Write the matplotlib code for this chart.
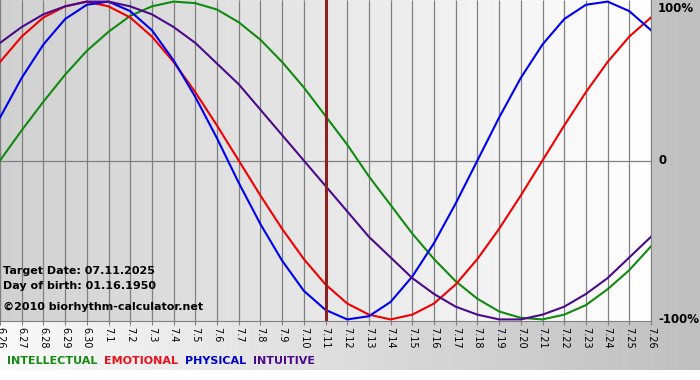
import numpy as np
import matplotlib
matplotlib.use("Agg")
import matplotlib.pyplot as plt

# Fechas del eje x (6.26 .. 7.26)
dias = ["6.26", "6.27", "6.28", "6.29", "6.30"] + [f"7.{d}" for d in range(1, 27)]

# Valores (fracción de 100%)
intelectual = [0.00, 0.19, 0.37, 0.54, 0.69, 0.81, 0.91, 0.97, 1.00, 0.99, 0.95,
               0.87, 0.76, 0.62, 0.46, 0.28, 0.10, -0.10, -0.28, -0.46, -0.62,
               -0.76, -0.87, -0.95, -0.99, -1.00, -0.97, -0.91, -0.81, -0.69, -0.54]
emocional = [0.62, 0.78, 0.90, 0.97, 1.00, 0.97, 0.90, 0.78, 0.62, 0.43, 0.22,
             0.00, -0.22, -0.43, -0.62, -0.78, -0.90, -0.97, -1.00, -0.97, -0.90,
             -0.78, -0.62, -0.43, -0.22, 0.00, 0.22, 0.43, 0.62, 0.78, 0.90]
fisico = [0.27, 0.52, 0.73, 0.89, 0.98, 1.00, 0.94, 0.82, 0.63, 0.40, 0.14,
          -0.14, -0.40, -0.63, -0.82, -0.94, -1.00, -0.98, -0.89, -0.73, -0.52,
          -0.27, 0.00, 0.27, 0.52, 0.73, 0.89, 0.98, 1.00, 0.94, 0.82]
intuitivo = [0.74, 0.84, 0.92, 0.97, 1.00, 1.00, 0.97, 0.92, 0.84, 0.74, 0.61,
             0.48, 0.32, 0.16, 0.00, -0.16, -0.32, -0.48, -0.61, -0.74, -0.84,
             -0.92, -0.97, -1.00, -1.00, -0.97, -0.92, -0.84, -0.74, -0.61, -0.48]

dia_objetivo = "7.11"
etiquetas_y = ["100%", "0", "-100%"]
valores_y = [1, 0, -1]

series = [
    ("INTELLECTUAL", intelectual, "#108a10", "#138a13"),
    ("EMOTIONAL", emocional, "#f00000", "#e8101a"),
    ("PHYSICAL", fisico, "#0000f0", "#0000cc"),
    ("INTUITIVE", intuitivo, "#4b0a8a", "#4b0a8a"),
]

W, H = 700, 380
fig = plt.figure(figsize=(W / 100, H / 100), dpi=100)
fig.patch.set_facecolor("white")

# fondo degradado (blanco -> gris)
fondo = fig.add_axes([0, 10 / H, 1, 370 / H], zorder=-5)
t = np.linspace(0, 1, 256)[:, None]
c0 = np.array([0.98, 0.98, 0.98])
c1 = np.array([0.75, 0.75, 0.75])
fondo.imshow((c0 + (c1 - c0) * t)[None, :, :], aspect="auto", extent=(0, 1, 0, 1))
fondo.set_axis_off()

ax = fig.add_axes([0, 59 / H, 651 / W, 321 / H])
x = np.arange(len(dias))
ax.set_xlim(0, len(dias) - 1)
ax.set_ylim(-1.01, 1.01)

# degradado del área de trazado (gris claro -> blanco)
p0 = np.array([0.82, 0.82, 0.82])
p1 = np.array([1.0, 1.0, 1.0])
ax.imshow((p0 + (p1 - p0) * t)[None, :, :], aspect="auto",
          extent=(0, len(dias) - 1, -1.01, 1.01), zorder=0)

gris = "#808080"
ax.vlines(x, -1.01, 1.01, color=gris, lw=0.9, zorder=1)
ax.axhline(0, color=gris, lw=0.9, zorder=1)

for nombre, valores, color, _ in series:
    ax.plot(x, valores, color=color, lw=1.5, zorder=3, solid_joinstyle="round")

ax.axvline(dias.index(dia_objetivo), color="#8a2020", lw=2.2, zorder=4)

for s in ["left", "right", "bottom"]:
    ax.spines[s].set_color(gris)
ax.spines["top"].set_visible(False)

ax.set_xticks(x)
ax.set_xticklabels(dias, rotation=270, fontsize=7, ha="center", va="top")
ax.tick_params(axis="x", length=3, color=gris, pad=1.5)
ax.set_yticks([])

for etiqueta, v in zip(etiquetas_y, valores_y):
    yy = 0.955 if v == 1 else v
    ax.text(1.011, yy, etiqueta, transform=ax.get_yaxis_transform(),
            ha="left", va="center", fontsize=8.5, fontweight="bold", clip_on=False)

# textos informativos
fig.text(3 / W, 1 - 271 / H, "Target Date: 07.11.2025", fontsize=8,
         fontweight="bold", va="center", ha="left")
fig.text(3 / W, 1 - 286 / H, "Day of birth: 01.16.1950", fontsize=8,
         fontweight="bold", va="center", ha="left")
fig.text(3 / W, 1 - 307 / H, "\u00a92010 biorhythm-calculator.net", fontsize=8,
         fontweight="bold", va="center", ha="left")

# leyenda con palabras de color
prev = fig.text(7 / W, 1 - 361 / H, series[0][0], color=series[0][3],
                fontsize=8, fontweight="bold", va="center", ha="left")
for nombre, _, _, color_txt in series[1:]:
    prev = fig.text(0, 0, "", fontsize=8)  # marcador vacío
    prev.remove()
    break
ult = fig.texts[-1]
for nombre, _, _, color_txt in series[1:]:
    ult = ax.annotate(nombre, xy=(1, 0.5), xycoords=ult, xytext=(5, 0),
                      textcoords="offset points", color=color_txt, fontsize=8,
                      fontweight="bold", va="center", ha="left",
                      annotation_clip=False)

fig.savefig("out.png", dpi=100)
plt.close(fig)
